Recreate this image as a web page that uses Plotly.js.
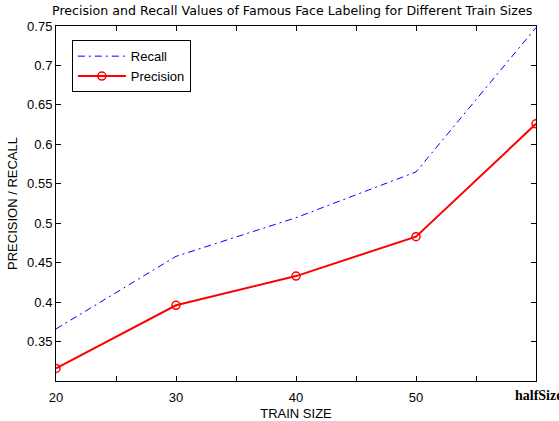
<!DOCTYPE html>
<html><head><meta charset="utf-8">
<script src="https://cdn.plot.ly/plotly-3.0.1.min.js"></script>
<style>html,body{margin:0;padding:0;background:#fff}#chart{width:559px;height:421px}</style>
</head><body><div id="chart"></div>
<script>
const trainSizes = [20, 30, 40, 50, 60];
const recall = [0.366, 0.458, 0.507, 0.565, 0.748];
const precision = [0.316, 0.396, 0.433, 0.483, 0.626];
const xTickVals = [20, 25, 30, 35, 40, 45, 50, 55, 60];
const xTickText = ['20', '', '30', '', '40', '', '50', '', 'halfSize'];
const yTickVals = [0.35, 0.4, 0.45, 0.5, 0.55, 0.6, 0.65, 0.7, 0.75];
const yTickText = ['0.35', '0.4', '0.45', '0.5', '0.55', '0.6', '0.65', '0.7', '0.75'];

const lastIdx = xTickVals.length - 1;
const traces = [
  {x: trainSizes, y: recall, name: 'Recall', mode: 'lines',
   line: {color: '#0000ff', width: 1, dash: '7px,4px,2px,4px'}},
  {x: trainSizes, y: precision, name: 'Precision', mode: 'lines+markers',
   line: {color: '#ff0000', width: 2},
   marker: {symbol: 'circle-open', size: 8, color: '#ff0000', line: {width: 1.5, color: '#ff0000'}}}
];
const font = {family: 'Liberation Sans, Arial, sans-serif', size: 13, color: '#000'};
const layout = {
  width: 559, height: 421,
  margin: {l: 56, r: 23, t: 26, b: 40},
  paper_bgcolor: '#fff', plot_bgcolor: '#fff',
  font: font,
  showlegend: true,
  title: {text: 'Precision and Recall Values of Famous Face Labeling for Different Train Sizes',
          font: {family: 'DejaVu Sans, sans-serif', size: 12.6, color: '#000'},
          x: 0.5227, xanchor: 'center', y: 0.974, yanchor: 'middle'},
  xaxis: {range: [20, 60], tickmode: 'array', tickvals: xTickVals,
          ticktext: xTickText.map((t, i) => i === lastIdx ? '' : t),
          ticks: 'inside', ticklen: 5, tickcolor: '#000', mirror: 'ticks', showline: true,
          linecolor: '#000', linewidth: 1, showgrid: false, zeroline: false,
          ticklabelstandoff: 4,
          title: {text: 'TRAIN SIZE', font: font, standoff: 6}, tickfont: font},
  yaxis: {range: [0.3, 0.75], tickmode: 'array', tickvals: yTickVals, ticktext: yTickText,
          ticks: 'inside', ticklen: 5, tickcolor: '#000', mirror: 'ticks', showline: true,
          linecolor: '#000', linewidth: 1, showgrid: false, zeroline: false,
          title: {text: 'PRECISION / RECALL', font: font, standoff: 6}, tickfont: font},
  legend: {x: 0.033, y: 0.96, xanchor: 'left', yanchor: 'top', bgcolor: '#fff',
           bordercolor: '#000', borderwidth: 1, font: font, tracegroupgap: 0,
           itemwidth: 48},
  annotations: [{
    text: '<b>' + xTickText[lastIdx] + '</b>', xref: 'x', x: xTickVals[lastIdx],
    yref: 'paper', y: 0, xanchor: 'left', yanchor: 'middle', xshift: -23, yshift: -14,
    showarrow: false, font: {family: 'Liberation Serif, Times New Roman, serif', size: 14, color: '#000'}
  }]
};
Plotly.newPlot('chart', traces, layout, {displayModeBar: false, staticPlot: true});
</script></body></html>
